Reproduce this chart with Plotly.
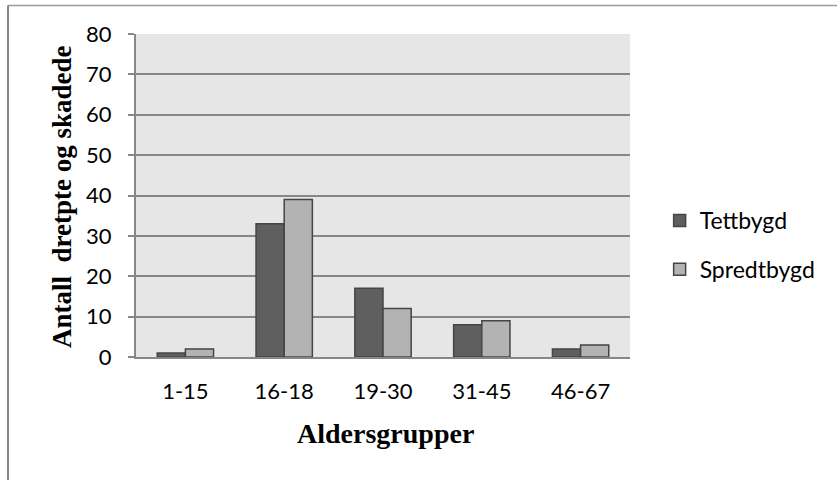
import plotly.graph_objects as go

# Road traffic casualties by age group, urban vs rural areas
age_groups = ["1-15", "16-18", "19-30", "31-45", "46-67"]
tettbygd = [1, 33, 17, 8, 2]
spredtbygd = [2, 39, 12, 9, 3]
y_ticks = [0, 10, 20, 30, 40, 50, 60, 70, 80]

W, H = 837, 480
L, R, T, B = 136, 630, 34, 357  # plot area in pixels


def px(x):
    return (x - L) / (R - L)


def py(y):
    return (B - y) / (B - T)


tick_font = dict(family="Lato, Open Sans, sans-serif", size=22, color="#000000")
legend_font = dict(family="Lato, Open Sans, sans-serif", size=23, color="#000000")
title_font = dict(family="Liberation Serif, Times New Roman, serif", size=28, color="#000000")

fig = go.Figure()
fig.add_trace(go.Bar(
    x=age_groups, y=tettbygd, name="Tettbygd", legendgroup="a",
    marker=dict(color="#5f5f5f", line=dict(color="#454545", width=1.5)),
))
fig.add_trace(go.Bar(
    x=age_groups, y=spredtbygd, name="Spredtbygd", legendgroup="b",
    marker=dict(color="#b3b3b3", line=dict(color="#454545", width=1.5)),
))

fig.update_layout(
    width=W, height=H,
    margin=dict(l=L, r=W - R, t=T, b=H - B, autoexpand=False),
    paper_bgcolor="#ffffff",
    plot_bgcolor="#e6e6e6",
    barmode="group",
    bargap=0.43,
    bargroupgap=0,
    showlegend=True,
    legend=dict(
        x=1.06, y=py(245), xanchor="left", yanchor="middle",
        font=legend_font, tracegroupgap=16, traceorder="grouped",
        bgcolor="rgba(0,0,0,0)", itemclick=False,
    ),
    xaxis=dict(
        showgrid=False, showline=True, linecolor="#878787", linewidth=2,
        ticks="", tickfont=tick_font, ticklabelstandoff=14,
        automargin=False,
    ),
    yaxis=dict(
        range=[0, 80], tickvals=y_ticks, showgrid=True, gridcolor="#878787",
        gridwidth=1.5, showline=True, linecolor="#878787", linewidth=2,
        ticks="outside", ticklen=6, tickcolor="#878787", tickwidth=1.5,
        tickfont=tick_font, ticklabelstandoff=12, zeroline=False,
        automargin=False,
    ),
    annotations=[
        dict(text="<b>Antall  dretpte og skadede</b>", xref="paper", yref="paper",
             x=px(62), y=py(197), xanchor="center", yanchor="middle",
             textangle=-90, showarrow=False,
             font=dict(family=title_font["family"], size=27, color="#000000")),
        dict(text="<b>Aldersgrupper</b>", xref="paper", yref="paper",
             x=px(385), y=py(433), xanchor="center", yanchor="middle",
             showarrow=False, font=title_font),
    ],
    shapes=[
        # outer chart frame (top and left edges)
        dict(type="line", xref="paper", yref="paper",
             x0=px(8), y0=py(5.5), x1=px(W + 5), y1=py(5.5),
             line=dict(color="#9a9a9a", width=1.5)),
        dict(type="line", xref="paper", yref="paper",
             x0=px(8), y0=py(5.5), x1=px(8), y1=py(H + 5),
             line=dict(color="#878787", width=2)),
    ],
)

fig.write_html("out.html")
